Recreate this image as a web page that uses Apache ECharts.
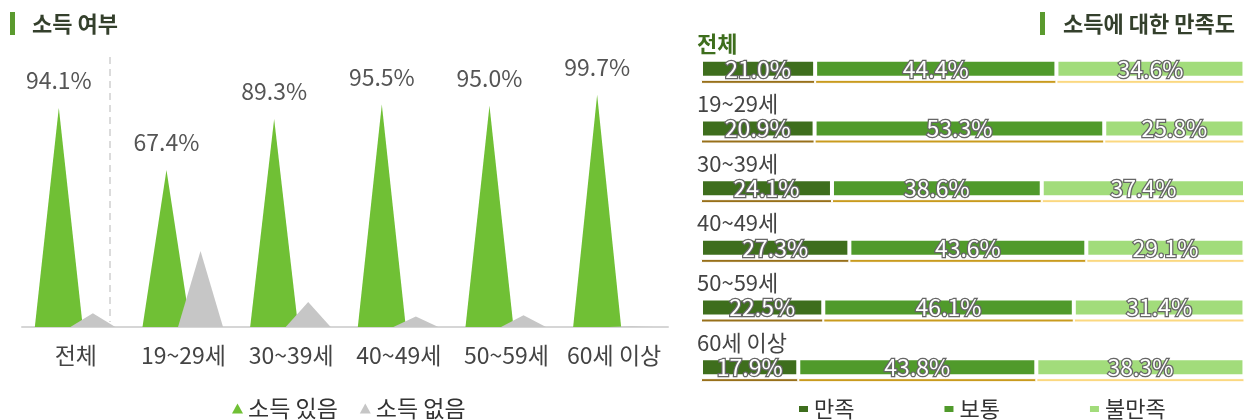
<!DOCTYPE html>
<html>
<head>
<meta charset="utf-8">
<script src="https://cdn.jsdelivr.net/npm/echarts@6/dist/echarts.min.js"></script>
<style>
    html, body { margin: 0; padding: 0; background: #fff; }
    #chart { width: 1248px; height: 420px; }
</style>
</head>
<body>
<div id="chart"></div>
<script>
    const ageGroups = ['전체', '19~29세', '30~39세', '40~49세', '50~59세', '60세 이상'];
    // 소득 여부 (%)
    const hasIncome = [94.1, 67.4, 89.3, 95.5, 95.0, 99.7];
    const noIncome = [5.9, 32.6, 10.7, 4.5, 5.0, 0.3];
    // 소득에 대한 만족도 (%)
    const satisfied = [21.0, 20.9, 24.1, 27.3, 22.5, 17.9];
    const neutral = [44.4, 53.3, 38.6, 43.6, 46.1, 43.8];
    const dissatisfied = [34.6, 25.8, 37.4, 29.1, 31.4, 38.3];

    const font = "'Noto Sans CJK KR', 'Noto Sans', sans-serif";
    const barColors = ['#3e6e1d', '#509a2b', '#a2dc7b'];
    const lineColors = ['#98701a', '#c99b1e', '#fbd880'];

    const chart = echarts.init(document.getElementById('chart'));

    const pct = p => p.value.toFixed(1) + '%';
    const segLabel = {
        show: true,
        formatter: pct,
        color: '#fff',
        fontSize: 23,
        fontFamily: font,
        textBorderColor: '#666',
        textBorderWidth: 2.5
    };

    function satBar(name, data, i) {
        return {
            name: name, type: 'bar', stack: 'sat', data: data,
            xAxisIndex: 1, yAxisIndex: 1, barWidth: 18,
            itemStyle: { color: barColors[i], borderColor: '#fff', borderWidth: 2 },
            label: segLabel
        };
    }
    function satLine(name, data, i) {
        return {
            name: name + ' ', type: 'bar', stack: 'line', data: data,
            xAxisIndex: 2, yAxisIndex: 2, barWidth: 4, silent: true,
            itemStyle: { color: lineColors[i], borderColor: '#fff', borderWidth: 1 }
        };
    }

    const option = {
        textStyle: { fontFamily: font },
        title: [
            { text: '소득 여부', left: 27, top: 8,
              textStyle: { fontSize: 22, fontWeight: 'bold', color: '#34402c', fontFamily: font } },
            { text: '소득에 대한 만족도', right: 8, top: 8,
              textStyle: { fontSize: 22, fontWeight: 'bold', color: '#34402c', fontFamily: font } }
        ],
        graphic: [
            { type: 'rect', shape: { x: 10, y: 12, width: 5, height: 23 }, style: { fill: '#5a9a2e' } },
            { type: 'rect', shape: { x: 1040, y: 12, width: 5, height: 23 }, style: { fill: '#5a9a2e' } },
            { type: 'line', shape: { x1: 110, y1: 57, x2: 110, y2: 322 },
              style: { stroke: '#cfcfcf', lineWidth: 1.5, lineDash: [7, 5] } }
        ],
        legend: [
            { data: ['소득 있음', '소득 없음'], left: 227, top: 392, icon: 'triangle',
              itemWidth: 11, itemHeight: 10, itemGap: 22,
              textStyle: { fontSize: 23, color: '#333', fontFamily: font } },
            { data: ['만족', '보통', '불만족'], left: 792, top: 393, icon: 'rect',
              itemWidth: 11, itemHeight: 8, itemGap: 88,
              textStyle: { fontSize: 22, color: '#333', fontFamily: font } }
        ],
        grid: [
            { left: 22, right: 580, top: 94, bottom: 93 },
            { left: 701, right: 3, top: 39, bottom: 23 },
            { left: 701, right: 3, top: 52, bottom: 10 },
            { left: 697, right: 3, top: 14, bottom: 48 }
        ],
        xAxis: [
            { type: 'category', gridIndex: 0, data: ageGroups,
              axisLine: { lineStyle: { color: '#d6d6d6', width: 2 } },
              axisTick: { show: false },
              axisLabel: { interval: 0, fontSize: 23, color: '#444', margin: 17, fontFamily: font } },
            { type: 'value', gridIndex: 1, min: 0, max: 100.1, show: false },
            { type: 'value', gridIndex: 2, min: 0, max: 100.1, show: false },
            { type: 'value', gridIndex: 3, min: 0, max: 100, show: false }
        ],
        yAxis: [
            { type: 'value', gridIndex: 0, min: 0, max: 100, show: false },
            { type: 'category', gridIndex: 1, data: ageGroups, inverse: true, show: false },
            { type: 'category', gridIndex: 2, data: ageGroups, inverse: true, show: false },
            { type: 'category', gridIndex: 3, data: ageGroups, inverse: true,
              axisLine: { show: false }, axisTick: { show: false }, splitLine: { show: false },
              axisLabel: {
                  inside: true, margin: 0, align: 'left', interval: 0,
                  formatter: (v, i) => i === 0 ? '{b|' + v + '}' : '{n|' + v + '}',
                  rich: {
                      b: { fontSize: 22, fontWeight: 'bold', color: '#3e6e1d', fontFamily: font },
                      n: { fontSize: 22, color: '#444', fontFamily: font }
                  }
              } }
        ],
        series: [
            { name: '소득 있음', type: 'pictorialBar', symbol: 'triangle',
              data: hasIncome, barWidth: 46, barGap: '-26%', symbolSize: [48, '100%'],
              itemStyle: { color: '#70c035' },
              label: { show: true, position: 'top', distance: 16, formatter: pct,
                       fontSize: 23, color: '#555', fontFamily: font },
              z: 2 },
            { name: '소득 없음', type: 'pictorialBar', symbol: 'triangle',
              data: noIncome, barWidth: 46, barGap: '-26%', symbolSize: [45, '100%'],
              itemStyle: { color: '#c6c6c6' },
              z: 3 },
            satBar('만족', satisfied, 0),
            satBar('보통', neutral, 1),
            satBar('불만족', dissatisfied, 2),
            satLine('만족', satisfied, 0),
            satLine('보통', neutral, 1),
            satLine('불만족', dissatisfied, 2)
        ]
    };
    chart.setOption(option);
</script>
</body>
</html>
